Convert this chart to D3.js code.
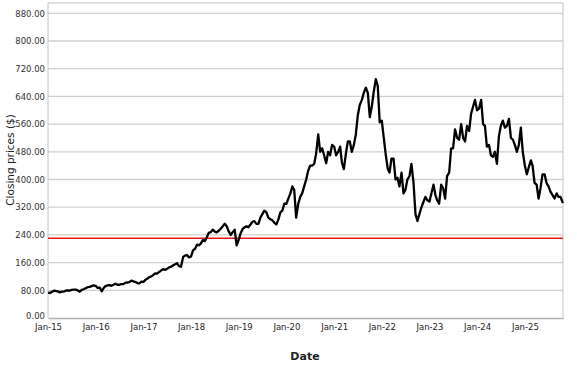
<!DOCTYPE html>
<html>
<head>
<meta charset="utf-8">
<script src="https://cdn.jsdelivr.net/npm/d3@7"></script>
<style>
  body { margin: 0; background: #fff; }
  text { font-family: "DejaVu Sans", Verdana, sans-serif; }
</style>
</head>
<body>
<div id="chart"></div>
<script>
// Closing prices, two per month (1st and 16th)
const prices2015 = [73, 72, 76, 79, 78, 77, 74, 76, 76, 79, 80, 79, 81, 82, 82, 80, 76, 81, 83, 86, 89, 90, 92, 94];
const prices2016 = [93, 87, 88, 77, 86, 92, 94, 95, 93, 96, 99, 96, 96, 98, 98, 102, 102, 104, 108, 106, 104, 101, 100, 105];
const prices2017 = [104, 110, 114, 118, 120, 124, 129, 128, 133, 137, 141, 139, 142, 146, 148, 152, 155, 158, 150, 148, 176, 180, 182, 175];
const prices2018 = [178, 195, 200, 212, 210, 215, 225, 222, 232, 246, 248, 255, 250, 247, 252, 258, 265, 272, 265, 250, 240, 248, 255, 210];
const prices2019 = [226, 245, 258, 262, 265, 262, 270, 278, 280, 272, 272, 290, 300, 310, 305, 290, 285, 282, 275, 270, 285, 305, 310, 330];
const prices2020 = [330, 345, 360, 380, 370, 290, 330, 350, 360, 380, 400, 425, 440, 440, 445, 475, 530, 480, 490, 470, 447, 480, 470, 500];
const prices2021 = [495, 470, 480, 495, 450, 430, 475, 510, 510, 480, 500, 530, 585, 615, 630, 650, 665, 650, 580, 610, 655, 690, 670, 565];
const prices2022 = [570, 520, 470, 430, 420, 460, 460, 400, 405, 380, 420, 360, 370, 400, 410, 445, 390, 300, 280, 300, 320, 335, 350, 340];
const prices2023 = [336, 360, 385, 355, 340, 330, 385, 375, 345, 410, 420, 490, 490, 545, 520, 515, 560, 520, 510, 555, 540, 590, 610, 630];
const prices2024 = [600, 605, 630, 560, 555, 495, 500, 470, 465, 480, 445, 525, 555, 570, 550, 555, 575, 520, 515, 500, 480, 500, 550, 480];
const prices2025 = [440, 415, 437, 455, 440, 390, 385, 345, 375, 415, 415, 390, 380, 365, 355, 345, 360, 350, 350, 335];

const yearlyPrices = [prices2015, prices2016, prices2017, prices2018, prices2019, prices2020,
                      prices2021, prices2022, prices2023, prices2024, prices2025];
const firstYear = 2015;
const lastDay = new Date(2025, 9, 20);
const lastPrice = 332;

const yTicks = [0, 80, 160, 240, 320, 400, 480, 560, 640, 720, 800, 880];
const xTickYears = [2015, 2016, 2017, 2018, 2019, 2020, 2021, 2022, 2023, 2024, 2025];
const referencePrice = 230;

// Build the series
let data = [];
yearlyPrices.forEach((arr, y) => {
  arr.forEach((v, i) => {
    let month = Math.floor(i / 2);
    let day = i % 2 === 0 ? 1 : 16;
    data.push({ date: new Date(firstYear + y, month, day), value: v });
  });
});
data.push({ date: lastDay, value: lastPrice });

const width = 577, height = 367;
const margins = { top: 3, right: 14, bottom: 49, left: 48 };

let svg = d3.select("#chart")
  .append("svg")
    .attr("width", width)
    .attr("height", height);

let xScale = d3.scaleTime()
  .domain([new Date(2015, 0, 1), lastDay])
  .range([margins.left, width - margins.right]);

let yScale = d3.scaleLinear()
  .domain([0, 880])
  .range([height - margins.bottom, 13.3]);

// Horizontal gridlines
svg.append("g")
  .selectAll("line")
  .data(yTicks.slice(1))
  .enter().append("line")
    .attr("x1", margins.left)
    .attr("x2", width - margins.right)
    .attr("y1", d => yScale(d))
    .attr("y2", d => yScale(d))
    .style("stroke", "#cfcfcf")
    .style("stroke-width", "1.3px");

// Frame (left, top, right)
svg.append("path")
  .attr("d", "M" + margins.left + "," + (height - margins.bottom) +
             "V" + margins.top + "H" + (width - margins.right) +
             "V" + (height - margins.bottom))
  .style("fill", "none")
  .style("stroke", "#c4c4c4")
  .style("stroke-width", "1px");

// Y axis labels
let yAxis = d3.axisLeft(yScale)
  .tickValues(yTicks)
  .tickSize(0)
  .tickPadding(3)
  .tickFormat(d3.format(".2f"));

let yg = svg.append("g")
  .attr("transform", "translate(" + margins.left + ",0)")
  .call(yAxis);
yg.select(".domain").remove();
yg.selectAll("text")
  .style("font-size", "8.5px")
  .style("fill", "#333");
// nudge the zero label up a touch so it clears Jan-15
yg.selectAll("text").filter(d => d === 0).attr("dy", "0.1em");

// X axis
let xAxis = d3.axisBottom(xScale)
  .tickValues(xTickYears.map(y => new Date(y, 0, 1)))
  .tickSize(0)
  .tickPadding(6)
  .tickFormat(d3.timeFormat("%b-%y"));

let xg = svg.append("g")
  .attr("transform", "translate(0," + (height - margins.bottom) + ")")
  .call(xAxis);
xg.select(".domain")
  .style("stroke", "#b0b0b0")
  .style("stroke-width", "1.3px");
xg.selectAll("text")
  .style("font-size", "8.5px")
  .style("fill", "#222");

// Reference line
svg.append("line")
  .attr("x1", margins.left)
  .attr("x2", width - margins.right)
  .attr("y1", yScale(referencePrice))
  .attr("y2", yScale(referencePrice))
  .style("stroke", "#e8141c")
  .style("stroke-width", "1.5px");

// Price line
let line = d3.line()
  .x(d => xScale(d.date))
  .y(d => yScale(d.value));

svg.append("path")
  .datum(data)
  .attr("d", line)
  .style("fill", "none")
  .style("stroke", "#000")
  .style("stroke-width", "2.3px")
  .style("stroke-linejoin", "round");

// Axis titles
svg.append("text")
  .attr("transform", "translate(14," + 160 + ") rotate(-90)")
  .style("text-anchor", "middle")
  .style("font-size", "10.5px")
  .style("fill", "#222")
  .text("Closing prices ($)");

svg.append("text")
  .attr("x", 305)
  .attr("y", 360)
  .style("text-anchor", "middle")
  .style("font-size", "11px")
  .style("font-weight", "bold")
  .style("fill", "#222")
  .text("Date");
</script>
</body>
</html>
